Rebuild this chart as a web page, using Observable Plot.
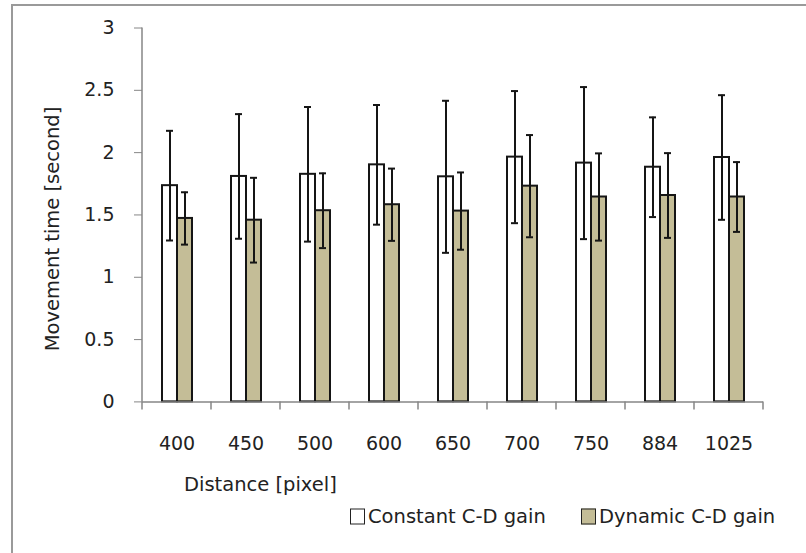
<!DOCTYPE html>
<html>
<head>
<meta charset="utf-8">
<script src="https://cdn.jsdelivr.net/npm/d3@7"></script>
<script src="https://cdn.jsdelivr.net/npm/@observablehq/plot@0.6"></script>
<style>
  html, body { margin: 0; padding: 0; background: #fff; }
  #page { position: relative; width: 806px; height: 553px; overflow: hidden; font-family: "DejaVu Sans", sans-serif; color: #222; }
  #border { position: absolute; left: 11px; top: 4px; width: 900px; height: 700px; border: 2px solid #9a9a9a; box-sizing: border-box; }
  #chart { position: absolute; left: 0; top: 0; }
  .ylabel { position: absolute; left: 52px; top: 229px; transform: translate(-50%, -50%) rotate(-90deg); white-space: nowrap; font-size: 19.5px; }
  .xlabel { position: absolute; left: 184px; top: 484px; transform: translateY(-50%); white-space: nowrap; font-size: 19.5px; }
  .legend-item { position: absolute; top: 516px; transform: translateY(-50%); display: flex; align-items: center; font-size: 19.5px; white-space: nowrap; }
  .swatch { width: 13px; height: 14px; border: 1.5px solid #222; margin-right: 3px; box-sizing: content-box; }
</style>
</head>
<body>
<div id="page">
  <div id="border"></div>
  <div id="chart"></div>
  <div class="ylabel" id="ylabel"></div>
  <div class="xlabel" id="xlabel"></div>
</div>
<script>
// ---- data ----
const distances = ["400", "450", "500", "600", "650", "700", "750", "884", "1025"];
const series = ["Constant C-D gain", "Dynamic C-D gain"];
const constantMean = [1.735, 1.809, 1.826, 1.902, 1.806, 1.964, 1.916, 1.883, 1.961];
const constantSD   = [0.44, 0.50, 0.54, 0.48, 0.61, 0.53, 0.61, 0.40, 0.50];
const dynamicMean  = [1.472, 1.458, 1.534, 1.582, 1.531, 1.731, 1.644, 1.656, 1.644];
const dynamicSD    = [0.21, 0.34, 0.30, 0.29, 0.31, 0.41, 0.35, 0.34, 0.28];
const yTicks = [0, 0.5, 1, 1.5, 2, 2.5, 3];
const seriesColors = ["#ffffff", "#c4bd97"];
const yLabel = "Movement time [second]";
const xLabel = "Distance [pixel]";

const rows = distances.flatMap((d, i) => [
  {distance: d, series: series[0], mean: constantMean[i], sd: constantSD[i]},
  {distance: d, series: series[1], mean: dynamicMean[i], sd: dynamicSD[i]}
]);

const axisGray = "#868686";
const ink = "#151515";

const plot = Plot.plot({
  width: 806,
  height: 470,
  marginLeft: 140,
  marginRight: 42,
  marginTop: 27.5,
  marginBottom: 68.6,
  style: {background: "transparent", fontFamily: "DejaVu Sans, sans-serif", fontSize: "19px", color: "#222", overflow: "visible"},
  fx: {domain: distances, padding: 0, label: null},
  x: {domain: series, type: "band", paddingInner: 0, paddingOuter: 1.22, axis: null},
  y: {domain: [0, 3], label: null},
  color: {domain: series, range: seriesColors},
  marks: [
    Plot.axisFx({anchor: "bottom", tickSize: 0, tickPadding: 35, label: null, fill: "#222"}),
    Plot.axisY({ticks: yTicks, tickSize: 8, tickPadding: 20, stroke: axisGray, fill: "#222", label: null, tickFormat: d => String(d)}),
    Plot.barY(rows, {fx: "distance", x: "series", y: "mean", fill: "series", stroke: ink, strokeWidth: 2}),
    Plot.ruleY([0], {stroke: axisGray, strokeWidth: 1.5}),
    Plot.ruleX(rows, {fx: "distance", x: "series", y1: d => d.mean - d.sd, y2: d => d.mean + d.sd, stroke: ink, strokeWidth: 2}),
    Plot.tickY(rows, {fx: "distance", x: "series", y: d => d.mean + d.sd, insetLeft: 4, insetRight: 4, stroke: ink, strokeWidth: 2}),
    Plot.tickY(rows, {fx: "distance", x: "series", y: d => d.mean - d.sd, insetLeft: 4, insetRight: 4, stroke: ink, strokeWidth: 2})
  ]
});

// Excel-style axis line and category boundary tick marks, placed from Plot's own scales
const fxS = plot.scale("fx");
const yS = plot.scale("y");
const svg = d3.select(plot);
const y0 = yS.apply(0), yTop = yS.apply(3);
const left = fxS.apply(distances[0]);
const g = svg.append("g").attr("stroke", axisGray).attr("stroke-width", 1.5);
g.append("line").attr("x1", left).attr("x2", left).attr("y1", yTop).attr("y2", y0);
const bounds = distances.map(d => fxS.apply(d)).concat([fxS.apply(distances[distances.length - 1]) + fxS.bandwidth]);
g.selectAll("line.b").data(bounds).join("line").attr("class", "b")
  .attr("x1", d => d).attr("x2", d => d).attr("y1", y0).attr("y2", y0 + 8);

document.getElementById("chart").appendChild(plot);
document.getElementById("ylabel").textContent = yLabel;
document.getElementById("xlabel").textContent = xLabel;

// legend
const legendLefts = [350, 581];
const page = document.getElementById("page");
series.forEach((s, i) => {
  const item = document.createElement("div");
  item.className = "legend-item";
  item.style.left = legendLefts[i] + "px";
  const sw = document.createElement("span");
  sw.className = "swatch";
  sw.style.background = seriesColors[i];
  const tx = document.createElement("span");
  tx.textContent = s;
  item.appendChild(sw);
  item.appendChild(tx);
  page.appendChild(item);
});
</script>
</body>
</html>
